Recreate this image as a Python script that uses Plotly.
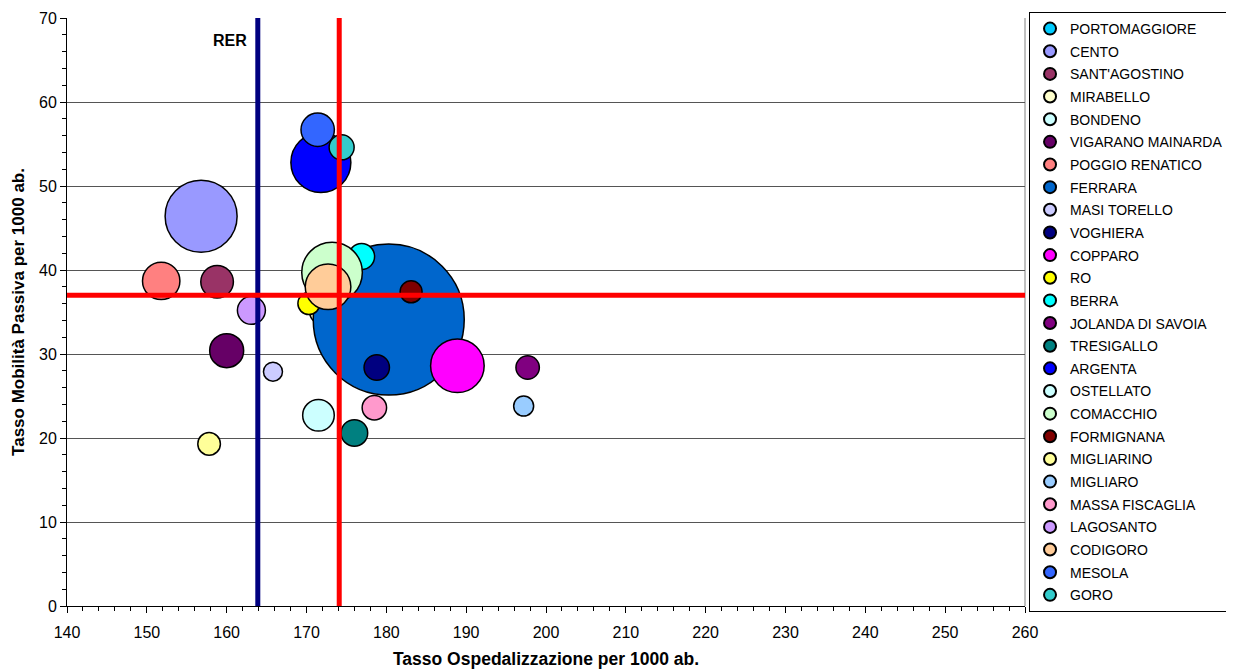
import plotly.graph_objects as go

# ---- data ----
comuni = ["PORTOMAGGIORE", "CENTO", "SANT'AGOSTINO", "MIRABELLO", "BONDENO",
          "VIGARANO MAINARDA", "POGGIO RENATICO", "FERRARA", "MASI TORELLO",
          "VOGHIERA", "COPPARO", "RO", "BERRA", "JOLANDA DI SAVOIA", "TRESIGALLO",
          "ARGENTA", "OSTELLATO", "COMACCHIO", "FORMIGNANA", "MIGLIARINO",
          "MIGLIARO", "MASSA FISCAGLIA", "LAGOSANTO", "CODIGORO", "MESOLA", "GORO"]
tasso_ospedalizzazione = [182.0, 156.8, 158.8, 171.9, 184.0,
                          160.0, 151.8, 180.3, 165.8,
                          178.8, 188.9, 170.3, 176.9, 197.7, 176.0,
                          171.8, 171.5, 173.2, 183.1, 157.8,
                          197.2, 178.5, 163.1, 172.7, 171.4, 174.4]
tasso_mobilita_passiva = [33.0, 46.4, 38.6, 35.0, 31.0,
                          30.4, 38.7, 34.1, 27.9,
                          28.4, 28.6, 36.0, 41.6, 28.4, 20.6,
                          52.8, 22.7, 39.7, 37.4, 19.3,
                          23.8, 23.6, 35.2, 38.0, 56.7, 54.6]
popolazione = [12000, 30700, 6290, 3400, 15000,
               6840, 8280, 135000, 2140,
               3820, 17010, 2870, 4000, 3240, 4190,
               21300, 5910, 21740, 2870, 3030,
               2370, 3530, 4640, 12310, 6600, 3700]
colori = ["#00CCFF", "#9999FF", "#993366", "#FFFFCC", "#CCFFFF",
          "#660066", "#FF8080", "#0066CC", "#CCCCFF",
          "#000080", "#FF00FF", "#FFFF00", "#00FFFF", "#800080", "#008080",
          "#0000FF", "#CCFFFF", "#CCFFCC", "#800000", "#FFFF99",
          "#99CCFF", "#FF99CC", "#CC99FF", "#FFCC99", "#3366FF", "#33CCCC"]

rer_x = 163.9          # valore regionale (RER)
media_x = 174.1        # media provinciale ospedalizzazione
media_y = 37.0         # media provinciale mobilità passiva
x_range = [140, 260]
y_range = [0, 70]

FONT = "Arial, 'Liberation Sans', sans-serif"
max_diam = 151
sizeref = 2.0 * max(popolazione) / (max_diam ** 2)

fig = go.Figure()
for name, x, y, p, c in zip(comuni, tasso_ospedalizzazione, tasso_mobilita_passiva,
                            popolazione, colori):
    fig.add_trace(go.Scatter(
        x=[x], y=[y], mode="markers", name=name, legendgroup=name,
        marker=dict(size=[p], sizemode="area", sizeref=sizeref, color=c,
                    opacity=1, line=dict(color="black", width=1.5)),
    ))

# reference lines
fig.add_trace(go.Scatter(x=[rer_x, rer_x], y=y_range, mode="lines",
                         line=dict(color="#000080", width=5), showlegend=False,
                         hoverinfo="skip"))
fig.add_trace(go.Scatter(x=[media_x, media_x], y=y_range, mode="lines",
                         line=dict(color="#FF0000", width=5), showlegend=False,
                         hoverinfo="skip"))
fig.add_trace(go.Scatter(x=x_range, y=[media_y, media_y], mode="lines",
                         line=dict(color="#FF0000", width=5), showlegend=False,
                         hoverinfo="skip"))

fig.add_annotation(x=160.4, y=67.3, text="<b>RER</b>", showarrow=False,
                   font=dict(family=FONT, size=16, color="black"))

# plot-area right border
fig.add_shape(type="line", xref="paper", yref="paper", x0=1, x1=1, y0=0, y1=1,
              line=dict(color="#808080", width=1), layer="below")

fig.update_layout(
    width=1226, height=663,
    margin=dict(l=59, r=209, t=10, b=65, autoexpand=False),
    paper_bgcolor="white", plot_bgcolor="white",
    font=dict(family=FONT, color="black"),
    showlegend=True,
    legend=dict(x=1.0042, y=0.5, xanchor="left", yanchor="middle",
                bordercolor="black", borderwidth=1, bgcolor="white",
                font=dict(family=FONT, size=14, color="black"),
                itemsizing="constant", tracegroupgap=1.45, maxheight=650),
    xaxis=dict(range=x_range, dtick=10, tick0=140, showgrid=False, zeroline=False,
               showline=True, linecolor="black", linewidth=1,
               ticks="outside", ticklen=6, tickcolor="black", ticklabelstandoff=6,
               tickfont=dict(family=FONT, size=16, color="black"),
               minor=dict(dtick=2, ticks="outside", ticklen=4, tickcolor="black"),
               title=dict(text="<b>Tasso Ospedalizzazione per 1000 ab.</b>",
                          font=dict(family=FONT, size=17.5, color="black"), standoff=12)),
    yaxis=dict(range=y_range, dtick=10, showgrid=True, gridcolor="#555555", gridwidth=1,
               zeroline=False, showline=True, linecolor="black", linewidth=1,
               ticks="outside", ticklen=6, tickcolor="black",
               tickfont=dict(family=FONT, size=16, color="black"),
               minor=dict(dtick=2, ticks="outside", ticklen=4, tickcolor="black",
                          showgrid=False),
               title=dict(text="<b>Tasso Mobilità Passiva per 1000 ab.</b>",
                          font=dict(family=FONT, size=17, color="black"), standoff=10)),
)

fig.write_html("out.html")
